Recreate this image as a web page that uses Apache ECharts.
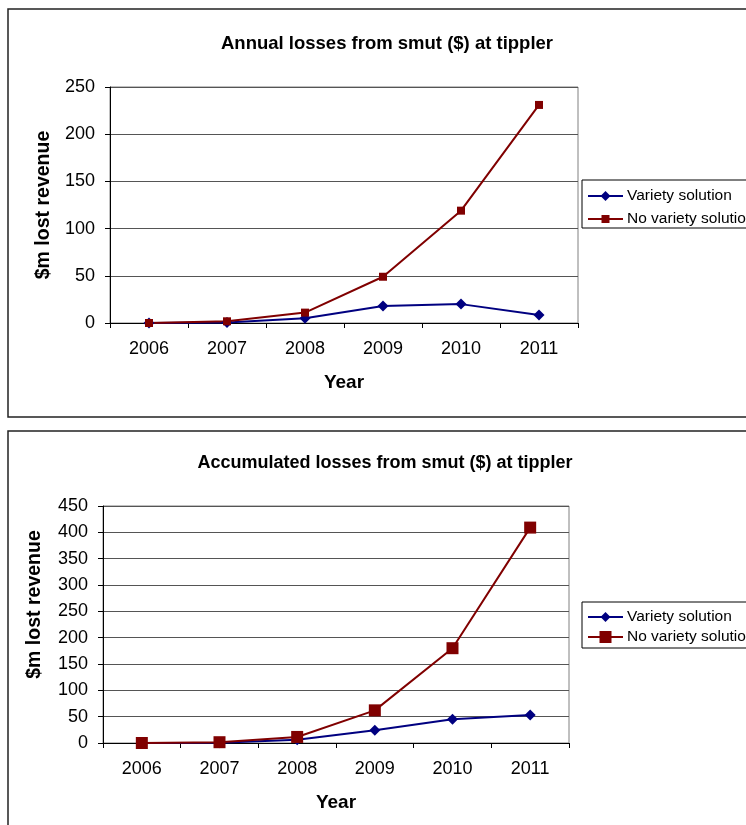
<!DOCTYPE html>
<html>
<head>
<meta charset="utf-8">
<script src="https://cdn.jsdelivr.net/npm/echarts@6/dist/echarts.min.js"></script>
<style>
  html, body { margin: 0; padding: 0; background: #fff; }
  #chart { width: 746px; height: 825px; }
</style>
</head>
<body>
<div id="chart"></div>
<script>
// Years on the category axis
const years = ['2006', '2007', '2008', '2009', '2010', '2011'];

// Annual losses, $m
const annualVariety = [0, 0.5, 5, 18, 20, 8.5];
const annualNoVariety = [0, 1.8, 11, 49, 119, 231];

// Accumulated losses, $m
const accumVariety = [0, 0.5, 6, 24, 45, 53];
const accumNoVariety = [0, 1.5, 11.5, 62, 180, 409];

// Y-axis ranges
const annualMax = 250, annualStep = 50;
const accumMax = 450, accumStep = 50;

const seriesNames = ['Variety solution', 'No variety solution'];

const FONT = '"Liberation Sans", Arial, sans-serif';
const BLUE = '#000080';
const RED = '#800000';

const chart = echarts.init(document.getElementById('chart'), null, { renderer: 'canvas' });

function xAxisFor(gridIndex) {
  return {
    type: 'category',
    gridIndex,
    data: years,
    boundaryGap: true,
    name: 'Year',
    nameLocation: 'middle',
    nameGap: 50,
    nameTextStyle: { fontFamily: FONT, fontSize: 19, fontWeight: 'bold', color: '#000' },
    axisLine: { lineStyle: { color: '#000', width: 1 } },
    axisTick: { show: true, alignWithLabel: false, length: 5, lineStyle: { color: '#000' } },
    axisLabel: { fontFamily: FONT, fontSize: 18, color: '#000', margin: 17 },
    splitLine: { show: false }
  };
}

function yAxisFor(gridIndex, max, step, nameGap, namePad) {
  return {
    type: 'value',
    gridIndex,
    min: 0,
    max,
    interval: step,
    name: '$m lost revenue',
    nameLocation: 'middle',
    nameGap,
    nameTextStyle: { fontFamily: FONT, fontSize: 19.5, fontWeight: 'bold', color: '#000', padding: namePad },
    axisLine: { show: true, lineStyle: { color: '#000', width: 1 } },
    axisTick: { show: true, length: 5, lineStyle: { color: '#000' } },
    axisLabel: { fontFamily: FONT, fontSize: 18, color: '#000', margin: 15 },
    splitLine: { show: true, lineStyle: { color: '#555', width: 1 } }
  };
}

function lineSeries(name, data, axisIndex, color, symbol, size) {
  return {
    name,
    type: 'line',
    xAxisIndex: axisIndex,
    yAxisIndex: axisIndex,
    data,
    symbol,
    symbolSize: size,
    showAllSymbol: true,
    lineStyle: { color, width: 2 },
    itemStyle: { color, borderWidth: 0 },
    emphasis: { disabled: true },
    animation: false
  };
}

function legendItem(name, left, top, itemHeight) {
  return {
    orient: 'vertical',
    left,
    top,
    padding: 0,
    itemWidth: 35,
    itemHeight,
    itemGap: 0,
    data: [name],
    textStyle: { fontFamily: FONT, fontSize: 15.5, color: '#000', padding: [0, 0, 0, -1] },
    selectedMode: false
  };
}

const option = {
  backgroundColor: '#fff',
  animation: false,
  title: [
    {
      text: 'Annual losses from smut ($) at tippler',
      left: 382, top: 29, textAlign: 'center',
      textStyle: { fontFamily: FONT, fontSize: 18.5, fontWeight: 'bold', color: '#000' }
    },
    {
      text: 'Accumulated losses from smut ($) at tippler',
      left: 380, top: 449, textAlign: 'center',
      textStyle: { fontFamily: FONT, fontSize: 18, fontWeight: 'bold', color: '#000' }
    }
  ],
  grid: [
    { left: 110, top: 87, width: 468, height: 236, show: true, borderColor: '#808080', borderWidth: 1, backgroundColor: 'transparent' },
    { left: 103, top: 506, width: 466, height: 237, show: true, borderColor: '#808080', borderWidth: 1, backgroundColor: 'transparent' }
  ],
  xAxis: [xAxisFor(0), xAxisFor(1)],
  yAxis: [
    yAxisFor(0, annualMax, annualStep, 56, [0, 0, 0, 0]),
    yAxisFor(1, accumMax, accumStep, 58, [0, 0, 0, 40])
  ],
  legend: [
    legendItem(seriesNames[0], 587, 188, 12.5),
    legendItem(seriesNames[1], 587, 211, 10),
    legendItem(seriesNames[0], 587, 609, 12.5),
    legendItem(seriesNames[1], 587, 629, 15)
  ],
  series: [
    lineSeries(seriesNames[0], annualVariety, 0, BLUE, 'diamond', 11),
    lineSeries(seriesNames[1], annualNoVariety, 0, RED, 'rect', 8),
    lineSeries(seriesNames[0], accumVariety, 1, BLUE, 'diamond', 11),
    lineSeries(seriesNames[1], accumNoVariety, 1, RED, 'rect', 12)
  ],
  graphic: [
    // chart frames
    { type: 'rect', shape: { x: 8, y: 9, width: 760, height: 408 }, style: { fill: 'none', stroke: '#222', lineWidth: 1.5 }, z: -1 },
    { type: 'rect', shape: { x: 8, y: 431, width: 760, height: 420 }, style: { fill: 'none', stroke: '#222', lineWidth: 1.5 }, z: -1 },
    // legend boxes
    { type: 'rect', shape: { x: 582, y: 180, width: 200, height: 48 }, style: { fill: '#fff', stroke: '#000', lineWidth: 1 }, z: 0 },
    { type: 'rect', shape: { x: 582, y: 602, width: 200, height: 46 }, style: { fill: '#fff', stroke: '#000', lineWidth: 1 }, z: 0 }
  ]
};

chart.setOption(option);
</script>
</body>
</html>
